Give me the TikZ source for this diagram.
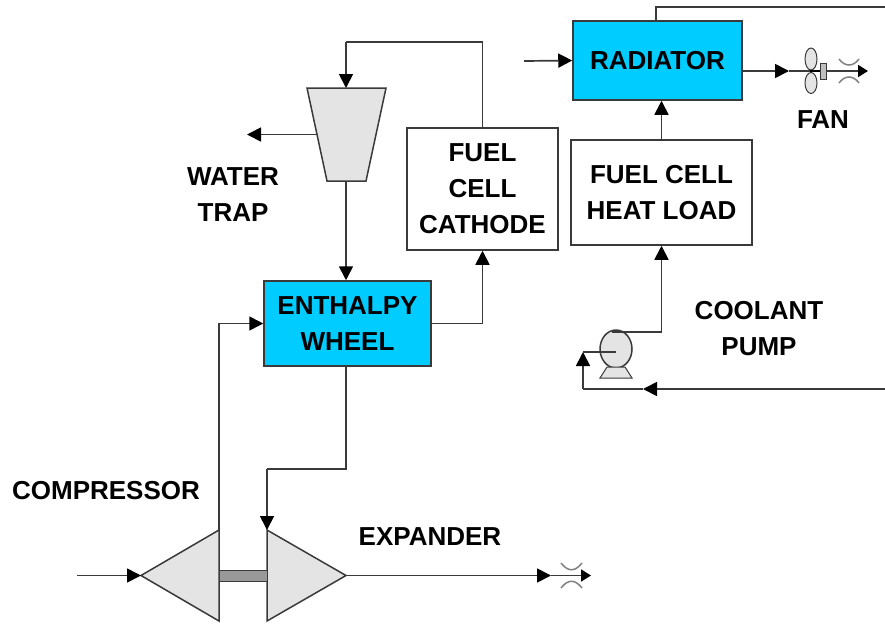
\documentclass[tikz,border=0pt]{standalone}
\usepackage{fontspec}
\setmainfont{Liberation Sans}
\usetikzlibrary{arrows.meta,shapes.geometric}
\definecolor{ink}{HTML}{3A3A3A}
\definecolor{wheelblue}{HTML}{00CCFF}
\definecolor{bodygrey}{HTML}{E4E4E4}
\newcommand{\labelfont}{\fontsize{26}{36}\selectfont\bfseries}
\tikzset{
  boxnode/.style={draw=ink,line width=1.5pt,align=center,inner sep=0pt,font=\labelfont},
  tag/.style={align=center,inner sep=0pt,font=\labelfont},
  pipe/.style={draw=ink,line width=1.7pt},
  flow/.style={pipe,-{Triangle[length=14pt,width=14pt,color=black]}},
  smallflow/.style={pipe,-{Triangle[length=10pt,width=12pt,color=black]}},
  orifice/.style={draw=gray,line width=1.5pt},
  machine/.style={draw=ink,line width=1.5pt,fill=bodygrey,inner sep=0pt}
}
\begin{document}
\begin{tikzpicture}[x=1pt,y=-1pt]
\useasboundingbox (0,0) rectangle (885,627);
% boxes
\node[boxnode,fill=wheelblue,minimum width=169pt,minimum height=79pt] (radiator) at (657.5,60.5) {RADIATOR};
\node[boxnode,minimum width=181pt,minimum height=105pt] (heatload) at (661.5,192.5) {FUEL CELL\\HEAT LOAD};
\node[boxnode,minimum width=151pt,minimum height=122pt] (cathode) at (482.5,189) {FUEL\\CELL\\CATHODE};
\node[boxnode,fill=wheelblue,minimum width=167pt,minimum height=85pt] (wheel) at (347.5,323.5) {ENTHALPY\\WHEEL};
% machines
\coordinate (traptop) at (346,88);
\coordinate (trapbottom) at (346,181);
\coordinate (trapside) at (317,134.5);
\coordinate (compapex) at (141,575.5);
\coordinate (comptop) at (219,530);
\coordinate (expapex) at (346,575.5);
\coordinate (exptop) at (267,530);
\draw[machine] (307,88) -- (386,88) -- (366,181) -- (327,181) -- cycle;
\draw[machine] (compapex) -- (comptop) -- (219,621) -- cycle;
\draw[machine] (expapex) -- (exptop) -- (267,621) -- cycle;
\node[draw=ink,line width=1pt,fill=gray!80,minimum width=48pt,minimum height=11pt,inner sep=0pt] (shaft) at (243,575.5) {};
% labels
\node[tag] (watertrap) at (233,194.5) {WATER\\TRAP};
\node[tag] (fan) at (823,120) {FAN};
\node[tag] (pumplabel) at (759,328.5) {COOLANT\\PUMP};
\node[tag] (complabel) at (106,491) {COMPRESSOR};
\node[tag] (explabel) at (430,537) {EXPANDER};
% pump
\coordinate (pumptop) at (612,332);
\node[machine,ellipse,minimum width=32pt,minimum height=38pt] (pump) at (616,349) {};
\draw[pipe,line width=1pt,fill=bodygrey] (607,367) -- (625,367) -- (632,378) -- (600,378) -- cycle;
% air side
\coordinate (airin) at (77,575.5);
\coordinate (wheelturn) at (346,469);
\coordinate (topleft) at (346,42);
\coordinate (trapout) at (247,134.5);
\coordinate (expvalve) at (551,575.5);
\coordinate (expout) at (591,575.5);
\draw[flow] (airin) -- (compapex);
\draw[flow] (comptop) |- (wheel.west);
\draw[flow] (wheel.east) -| (cathode.south);
\draw[pipe] (cathode.north) |- (topleft);
\draw[flow] (topleft) -- (traptop);
\draw[flow] (trapbottom) -- (wheel.north -| trapbottom);
\draw[flow] (trapside) -- (trapout);
\draw[pipe] (wheel.south -| wheelturn) -- (wheelturn) -- (wheelturn -| exptop);
\draw[flow] (wheelturn -| exptop) -- (exptop);
\draw[flow] (expapex) -- (expvalve);
\draw[smallflow] (expvalve) -- (expout);
\draw[orifice] (561,563) .. controls (568,572) and (575,572) .. (582,563);
\draw[orifice] (561,588) .. controls (568,579) and (575,579) .. (582,588);
% coolant side
\coordinate (radin) at (524,61);
\coordinate (radreturn) at (656,7);
\coordinate (radreturnend) at (885,7);
\coordinate (radout) at (742,71);
\coordinate (fanin) at (789,71);
\coordinate (fanout) at (868,71);
\coordinate (pumpout) at (661.5,332);
\coordinate (pumpin) at (583,352);
\coordinate (retcorner) at (583,389);
\coordinate (retmid) at (643,389);
\coordinate (retend) at (885,389);
\draw[flow] (radin) -- (radiator.west);
\draw[pipe] (radiator.north -| radreturn) -- (radreturn) -- (radreturnend);
\draw[flow] (heatload.north) -- (radiator.south -| heatload.north);
\draw[flow] (pumpout) -- (heatload.south);
\draw[pipe] (pumptop) -- (pumpout);
\draw[flow] (retend) -- (retmid);
\draw[pipe] (retmid) -- (retcorner);
\draw[flow] (retcorner) -- (pumpin);
\draw[pipe] (pumpin) -- (pumpin -| pump.center);
\draw[flow] (radout) -- (fanin);
\draw[smallflow] (fanin) -- (fanout);
% fan
\node[machine,ellipse,line width=1pt,minimum width=12pt,minimum height=22pt] (bladeup) at (811,59) {};
\node[machine,ellipse,line width=1pt,minimum width=12pt,minimum height=21pt] (bladedown) at (811,83) {};
\draw[draw=black,line width=2.5pt] (810,71) -- (821,71);
\node[machine,line width=1pt,fill=gray!50,minimum width=6pt,minimum height=16pt] (fanhub) at (823,71) {};
\draw[orifice] (839,59) .. controls (845,67) and (853,67) .. (859,59);
\draw[orifice] (839,83) .. controls (845,75) and (853,75) .. (859,83);
\end{tikzpicture}
\end{document}
